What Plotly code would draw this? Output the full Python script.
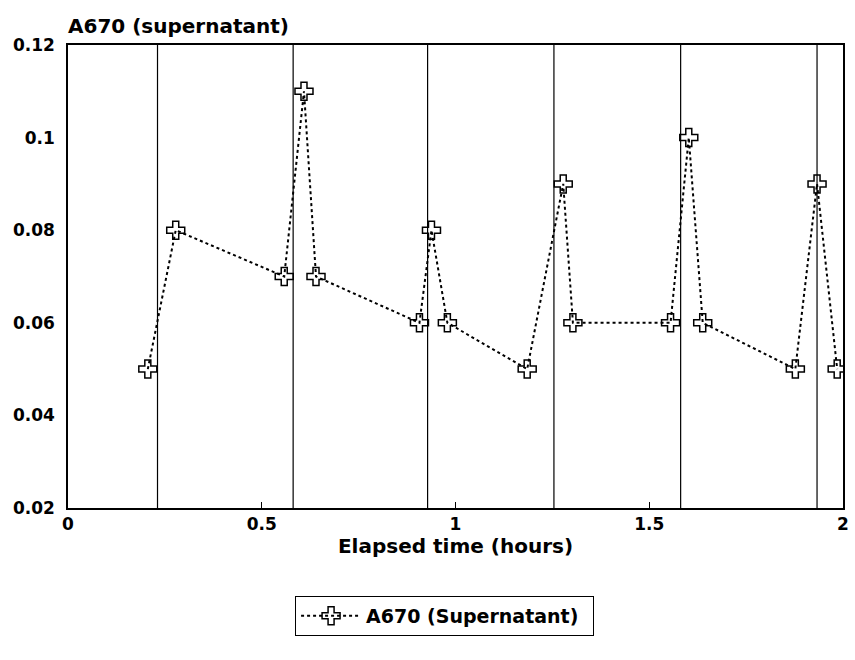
import plotly.graph_objects as go

time_h = [0.206, 0.278, 0.558, 0.609, 0.640, 0.907, 0.938, 0.979, 1.185,
          1.278, 1.303, 1.555, 1.602, 1.638, 1.877, 1.933, 1.985]
a670 = [0.05, 0.08, 0.07, 0.11, 0.07, 0.06, 0.08, 0.06, 0.05,
        0.09, 0.06, 0.06, 0.10, 0.06, 0.05, 0.09, 0.05]
event_times = [0.231, 0.581, 0.928, 1.254, 1.581, 1.933]
x_ticks = [0, 0.5, 1, 1.5, 2]
x_tick_labels = ["0", "0.5", "1", "1.5", "2"]
y_ticks = [0.02, 0.04, 0.06, 0.08, 0.1, 0.12]
y_tick_labels = ["0.02", "0.04", "0.06", "0.08", "0.1", "0.12"]

FONT = "DejaVu Sans"
tick_font = dict(family=FONT, size=17, color="black", weight="bold")
title_font = dict(family=FONT, size=20, color="black", weight="bold")
legend_font = dict(family=FONT, size=19, color="black", weight="bold")

fig = go.Figure()
fig.add_trace(go.Scatter(
    x=time_h, y=a670, mode="lines+markers", name="A670 (Supernatant)",
    line=dict(color="black", width=2, dash="dot"),
    marker=dict(symbol="cross-open", size=15, color="black",
                line=dict(color="black", width=1.5)),
))

for t in event_times:
    fig.add_shape(type="line", xref="x", yref="paper", x0=t, x1=t, y0=0, y1=1,
                  line=dict(color="black", width=1.2))

fig.update_layout(
    width=855, height=660,
    margin=dict(l=68, r=6, t=45, b=152),
    plot_bgcolor="white", paper_bgcolor="white",
    font=tick_font,
    showlegend=True,
    legend=dict(orientation="h", x=0.293, xanchor="left", y=-0.19, yanchor="top",
                bordercolor="black", borderwidth=1, bgcolor="white",
                font=legend_font, itemwidth=60, entrywidth=222,
                tracegroupgap=0),
    annotations=[dict(text="A670 (supernatant)", xref="paper", yref="paper",
                      x=0, y=1, xanchor="left", yanchor="bottom", yshift=5, xshift=-2,
                      showarrow=False, font=title_font)],
)
fig.update_xaxes(range=[0, 2], tickvals=x_ticks, ticktext=x_tick_labels,
                 showgrid=False, zeroline=False, showline=True, linecolor="black",
                 linewidth=1.5, mirror=True, ticks="inside", ticklen=6, tickcolor="black",
                 tickfont=tick_font,
                 title=dict(text="Elapsed time (hours)", standoff=2, font=title_font))
fig.update_yaxes(range=[0.02, 0.12], tickvals=y_ticks, ticktext=y_tick_labels,
                 showgrid=False, zeroline=False, showline=True, linecolor="black",
                 linewidth=1.5, mirror=True, ticks="", tickfont=tick_font,
                 ticklabelstandoff=8)

fig.write_html("out.html")
